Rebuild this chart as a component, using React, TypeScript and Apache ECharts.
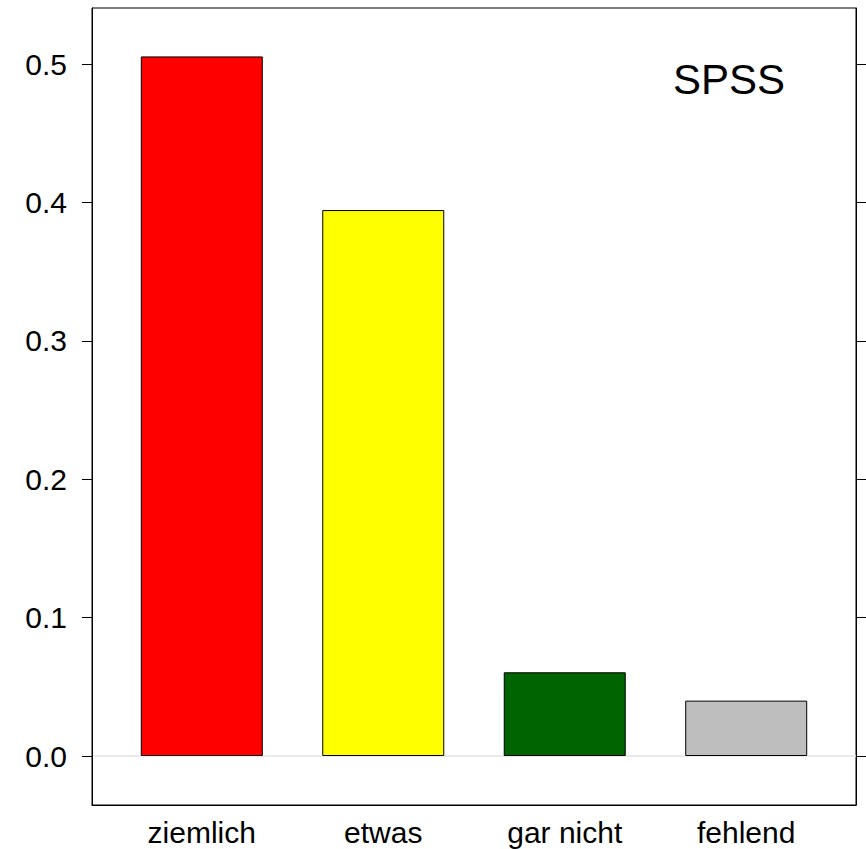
import React, { useEffect, useRef } from "react";
import * as echarts from "echarts";

const categories = ["ziemlich", "etwas", "gar nicht", "fehlend"];
const values = [0.5055, 0.3945, 0.0605, 0.0400];
const colors = ["#FF0000", "#FFFF00", "#006400", "#BEBEBE"];
const yTicks = [0, 0.1, 0.2, 0.3, 0.4, 0.5];
const xPositions = [0, 1, 2, 3];

export default function App() {
  const ref = useRef<HTMLDivElement>(null);
  useEffect(() => {
    if (!ref.current) return;
    const chart = echarts.init(ref.current, null, { renderer: "svg" });
    const font = "'Liberation Sans', Arial, sans-serif";
    chart.setOption({
      animation: false,
      backgroundColor: "#ffffff",
      textStyle: { fontFamily: font },
      grid: {
        left: 92,
        right: 10,
        top: 8,
        bottom: 44,
        show: true,
        borderColor: "#000",
        borderWidth: 1,
        backgroundColor: "transparent",
      },
      xAxis: {
        type: "value",
        min: -0.605,
        max: 3.605,
        splitLine: { show: false },
        axisLine: { show: true, onZero: false, lineStyle: { color: "#000", width: 1 } },
        axisTick: { show: false },
        axisLabel: {
          customValues: xPositions,
          formatter: (v: number) => categories[Math.round(v)] ?? "",
          color: "#000",
          fontSize: 30,
          fontFamily: font,
          margin: 12,
        },
      },
      yAxis: [
        {
          type: "value",
          position: "left",
          min: -0.0354,
          max: 0.5405,
          splitLine: { show: false },
          axisLine: { show: true, onZero: false, lineStyle: { color: "#000", width: 1 } },
          axisTick: {
            show: true,
            length: 10,
            customValues: yTicks,
            lineStyle: { color: "#000", width: 1 },
          },
          axisLabel: {
            customValues: yTicks,
            formatter: (v: number) => v.toFixed(1),
            color: "#000",
            fontSize: 30,
            fontFamily: font,
            margin: 25,
          },
        },
        {
          type: "value",
          position: "right",
          min: -0.0354,
          max: 0.5405,
          splitLine: { show: false },
          axisLine: { show: true, onZero: false, lineStyle: { color: "#000", width: 1 } },
          axisTick: {
            show: true,
            length: 10,
            customValues: yTicks,
            lineStyle: { color: "#000", width: 1 },
          },
          axisLabel: { show: false },
        },
      ],
      graphic: [
        {
          type: "text",
          left: 673,
          top: 58,
          style: {
            text: "SPSS",
            fontSize: 42,
            fontFamily: font,
            fill: "#000",
          },
        },
      ],
      series: [
        {
          type: "bar",
          barWidth: 122,
          data: values.map((v, i) => ({
            value: [xPositions[i], v],
            itemStyle: { color: colors[i], borderColor: "#000", borderWidth: 1 },
          })),
          markLine: {
            silent: true,
            symbol: "none",
            label: { show: false },
            lineStyle: { color: "#E3E3E3", width: 1.5, type: "solid" },
            data: [{ yAxis: 0 }],
            z: 0,
          },
          z: 2,
        },
      ],
    });
    return () => chart.dispose();
  }, []);
  return (
    <div
      ref={ref}
      style={{ position: "fixed", left: 0, top: 0, width: 866, height: 849 }}
    />
  );
}
